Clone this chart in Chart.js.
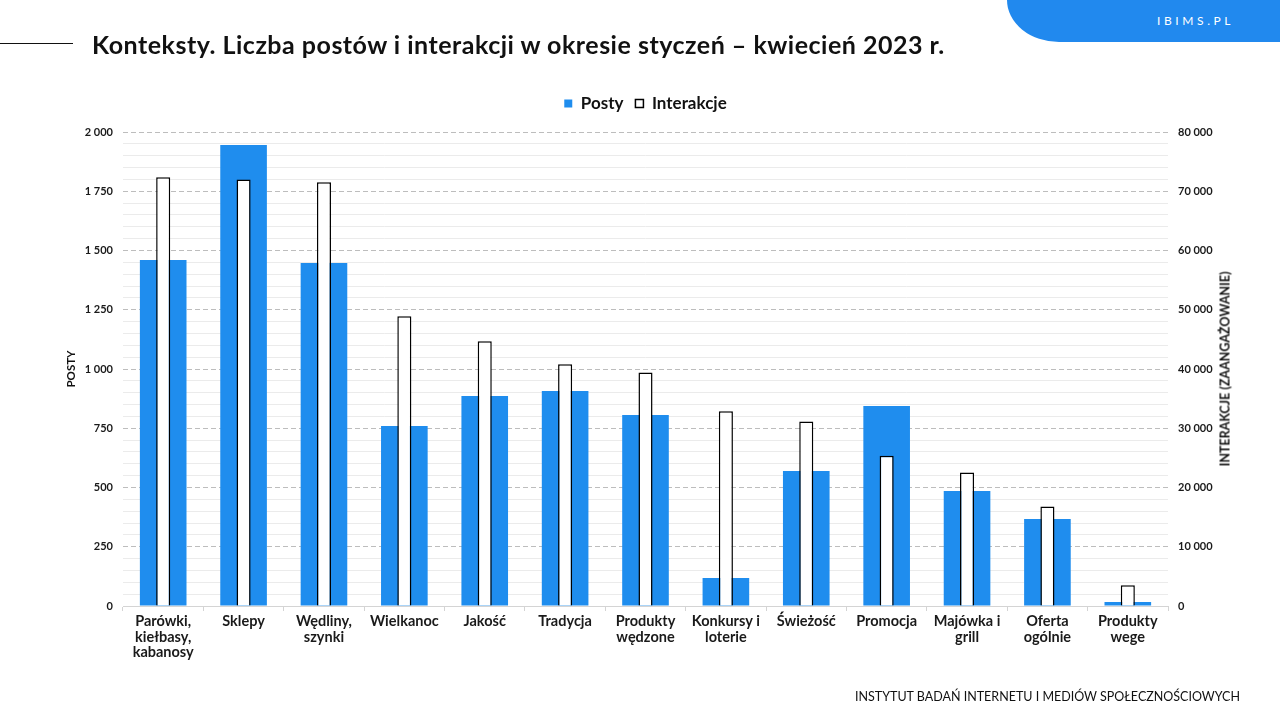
<!DOCTYPE html>
<html lang="pl">
<head>
<meta charset="utf-8">
<script src="https://cdn.jsdelivr.net/npm/chart.js@4.4.1/dist/chart.umd.min.js"></script>
<style>
  html, body { margin: 0; padding: 0; background: #fff; }
  #wrap { position: relative; width: 1280px; height: 720px; overflow: hidden; font-family: Lato, "Noto Sans", sans-serif; }
  #chartBox { position: absolute; left: 0; top: 0; width: 1280px; height: 720px; }
  #titleLine { position: absolute; left: 0; top: 43px; width: 73px; height: 1px; background: #111; }
  #title { position: absolute; left: 92px; top: 32px; font-size: 25px; line-height: 25px; font-weight: 700; color: #111; white-space: nowrap; letter-spacing: 0.5px; }
  #badge { position: absolute; left: 1007px; top: 0; width: 273px; height: 42px; background: #2189ee; border-bottom-left-radius: 52px 42px; }
  #badgeText { position: absolute; left: 1157px; top: 14px; font-size: 12px; line-height: 14px; letter-spacing: 3.6px; color: #fff; white-space: nowrap; }
  #rightTitle { position: absolute; left: 1225px; top: 369px; transform: translate(-50%, -50%) rotate(-90deg); font-size: 12.5px; font-weight: 700; color: #111; white-space: nowrap; }
  #footer { position: absolute; right: 40px; top: 690px; font-size: 12.5px; line-height: 14px; color: #111; white-space: nowrap; }
</style>
</head>
<body>
<div id="wrap">
  <div id="chartBox"><canvas id="c"></canvas></div>
  <div id="titleLine"></div>
  <div id="title">Konteksty. Liczba postów i interakcji w okresie styczeń – kwiecień 2023 r.</div>
  <div id="badge"></div>
  <div id="badgeText">IBIMS.PL</div>
  <div id="rightTitle">INTERAKCJE (ZAANGAŻOWANIE)</div>
  <div id="footer">INSTYTUT BADAŃ INTERNETU I MEDIÓW SPOŁECZNOŚCIOWYCH</div>
</div>
<script>
const categories = [
  ['Parówki,', 'kiełbasy,', 'kabanosy'],
  'Sklepy',
  ['Wędliny,', 'szynki'],
  'Wielkanoc',
  'Jakość',
  'Tradycja',
  ['Produkty', 'wędzone'],
  ['Konkursy i', 'loterie'],
  'Świeżość',
  'Promocja',
  ['Majówka i', 'grill'],
  ['Oferta', 'ogólnie'],
  ['Produkty', 'wege']
];
const postyValues = [1460, 1945, 1447, 759, 886, 907, 806, 118, 570, 844, 485, 367, 17];
const interakcjeValues = [72350, 72000, 71500, 48900, 44700, 40800, 39400, 32850, 31150, 25350, 22550, 16800, 3500];
const leftTicks = { min: 0, max: 2000, major: 250, minor: 50 };
const rightTicks = { min: 0, max: 80000, step: 10000 };
const seriesNames = ['Posty', 'Interakcje'];
const leftAxisTitle = 'POSTY';

const BLUE = '#1f8dee';
const fmt = v => String(v).replace(/\B(?=(\d{3})+(?!\d))/g, ' ');
const FONT = 'Lato, "Noto Sans", sans-serif';

new Chart(document.getElementById('c'), {
  type: 'bar',
  data: {
    labels: categories,
    datasets: [
      {
        label: seriesNames[0],
        data: postyValues,
        yAxisID: 'y',
        backgroundColor: BLUE,
        borderWidth: 0,
        grouped: false,
        categoryPercentage: 1,
        barPercentage: 0.58,
        order: 1
      },
      {
        label: seriesNames[1],
        data: interakcjeValues,
        yAxisID: 'y2',
        backgroundColor: '#ffffff',
        borderColor: '#000000',
        borderWidth: 1.5,
        grouped: false,
        categoryPercentage: 1,
        barPercentage: 0.175,
        order: 0
      }
    ]
  },
  options: {
    responsive: true,
    maintainAspectRatio: false,
    animation: false,
    devicePixelRatio: 1,
    layout: { padding: { left: 60, right: 48, top: 83, bottom: 0 } },
    plugins: {
      tooltip: { enabled: false },
      legend: {
        display: true,
        position: 'top',
        fullSize: false,
        labels: {
          boxWidth: 8,
          boxHeight: 8,
          padding: 12,
          color: '#111',
          font: { family: FONT, size: 17, weight: 'bold' },
          sort: (a, b) => a.datasetIndex - b.datasetIndex
        }
      },
      subtitle: {
        display: true,
        text: '',
        weight: 500,
        position: 'top',
        padding: 4.5,
        font: { size: 1, lineHeight: 1 }
      }
    },
    scales: {
      x: {
        afterFit: s => { s.height = 114; },
        grid: { display: true, offset: true, drawOnChartArea: false, drawTicks: true, tickLength: 5, color: '#d4d4d4' },
        border: { display: true, color: '#d4d4d4', width: 1 },
        ticks: {
          color: '#1a1a1a',
          padding: 3,
          maxRotation: 0,
          autoSkip: false,
          font: { family: FONT, size: 14.5, weight: 'bold', lineHeight: 1.07 }
        }
      },
      y: {
        position: 'left',
        min: leftTicks.min,
        max: leftTicks.max,
        afterFit: s => { s.width = 63; },
        ticks: {
          stepSize: leftTicks.minor,
          autoSkip: false,
          padding: 10,
          color: '#1a1a1a',
          font: { family: FONT, size: 11, weight: 'bold' },
          callback: v => (v % leftTicks.major === 0 ? fmt(v) : '')
        },
        grid: {
          drawTicks: false,
          lineWidth: 1,
          color: ctx => {
            const v = ctx.tick ? ctx.tick.value : 0;
            if (v === 0) return '#d4d4d4';
            return v % leftTicks.major === 0 ? '#bdbdbd' : '#ebebeb';
          }
        },
        border: {
          display: false,
          dash: ctx => {
            const v = ctx.tick ? ctx.tick.value : 0;
            return (v !== 0 && v % leftTicks.major === 0) ? [5, 3] : [];
          }
        },
        title: {
          display: true,
          text: leftAxisTitle,
          color: '#111',
          padding: { top: 4, bottom: 0 },
          font: { family: FONT, size: 11.5, weight: 'bold' }
        }
      },
      y2: {
        position: 'right',
        min: rightTicks.min,
        max: rightTicks.max,
        afterFit: s => { s.width = 64; },
        ticks: {
          stepSize: rightTicks.step,
          padding: 10,
          color: '#1a1a1a',
          font: { family: FONT, size: 11, weight: 'bold' },
          callback: v => fmt(v)
        },
        grid: { drawOnChartArea: false, drawTicks: false },
        border: { display: false }
      }
    }
  }
});
</script>
</body>
</html>
